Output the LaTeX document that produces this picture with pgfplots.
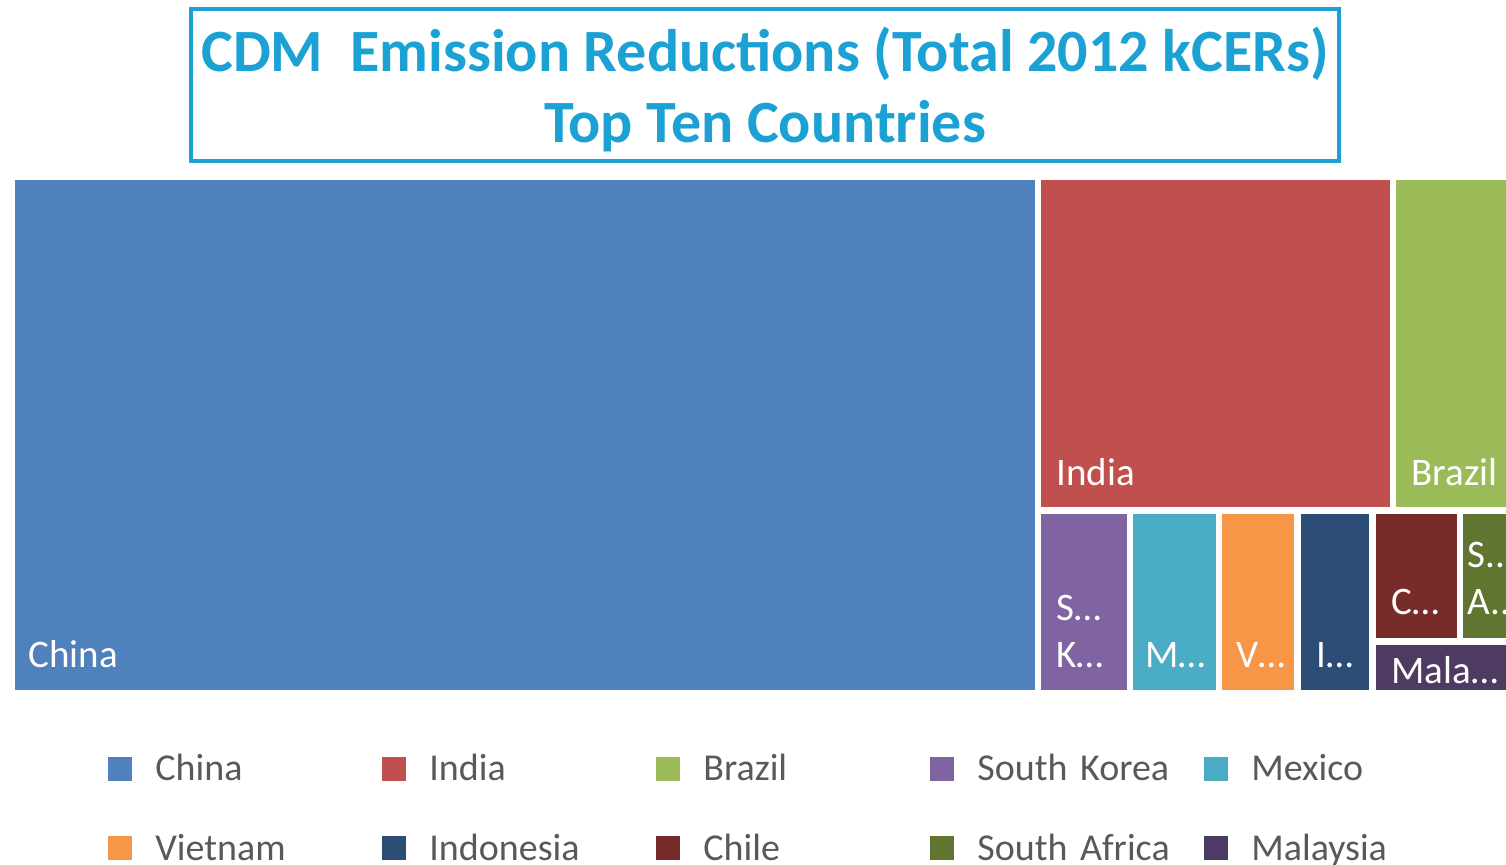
\documentclass[border=0pt]{standalone}
\usepackage{pgfplots}
\pgfplotsset{compat=1.18}
\usepackage{fontspec}
\setmainfont{Carlito}
\definecolor{cChina}{HTML}{4F81BD}
\definecolor{cIndia}{HTML}{C0504D}
\definecolor{cBrazil}{HTML}{9BBB59}
\definecolor{cKorea}{HTML}{8064A2}
\definecolor{cMexico}{HTML}{4BACC6}
\definecolor{cVietnam}{HTML}{F79646}
\definecolor{cIndonesia}{HTML}{2C4D75}
\definecolor{cChile}{HTML}{772C2A}
\definecolor{cSAfrica}{HTML}{5F7530}
\definecolor{cMalaysia}{HTML}{4D3B62}
\definecolor{titleblue}{HTML}{1BA1D3}
\definecolor{legtext}{HTML}{595959}
\begin{document}
\begin{tikzpicture}
\begin{axis}[
  width=753pt, height=432pt, scale only axis,
  xmin=0, xmax=1506, ymin=0, ymax=864, y dir=reverse,
  hide axis, clip=true,
  legend columns=5,
  legend style={at={(axis cs:102,750)}, anchor=north west, draw=none, fill=none,
    font=\fontsize{19}{22}\selectfont\color{legtext},
    /tikz/every even column/.append style={column sep=0pt},
    row sep=25pt,
    nodes={text width=113.5pt, align=left, anchor=west, inner sep=0pt},
  },
  legend image code/.code={\fill[#1] (0pt,-6pt) rectangle (12pt,6pt);},
  legend cell align=left,
  legend style={/tikz/every odd column/.append style={column sep=11.5pt}},
]
\addplot[fill=cChina, draw=none] coordinates {(15,180) (1035,180) (1035,690) (15,690)} -- cycle;
\addlegendentry{China}
\addplot[fill=cIndia, draw=none] coordinates {(1041,180) (1390,180) (1390,507) (1041,507)} -- cycle;
\addlegendentry{India}
\addplot[fill=cBrazil, draw=none] coordinates {(1396,180) (1560,180) (1560,507) (1396,507)} -- cycle;
\addlegendentry{Brazil}
\addplot[fill=cKorea, draw=none] coordinates {(1041,514) (1127,514) (1127,690) (1041,690)} -- cycle;
\addlegendentry{South Korea}
\addplot[fill=cMexico, draw=none] coordinates {(1133,514) (1216,514) (1216,690) (1133,690)} -- cycle;
\addlegendentry{Mexico}
\addplot[fill=cVietnam, draw=none] coordinates {(1222,514) (1294,514) (1294,690) (1222,690)} -- cycle;
\addlegendentry{Vietnam}
\addplot[fill=cIndonesia, draw=none] coordinates {(1301,514) (1369,514) (1369,690) (1301,690)} -- cycle;
\addlegendentry{Indonesia}
\addplot[fill=cChile, draw=none] coordinates {(1376,514) (1457,514) (1457,638) (1376,638)} -- cycle;
\addlegendentry{Chile}
\addplot[fill=cSAfrica, draw=none] coordinates {(1463,514) (1560,514) (1560,638) (1463,638)} -- cycle;
\addlegendentry{South Africa}
\addplot[fill=cMalaysia, draw=none] coordinates {(1376,645) (1560,645) (1560,690) (1376,690)} -- cycle;
\addlegendentry{Malaysia}
% labels
\begin{scope}[every node/.style={anchor=base west, inner sep=0pt, text=white, font=\fontsize{19.5}{22}\selectfont}]
\node at (axis cs:28,667) {China};
\node at (axis cs:1056,485) {India};
\node at (axis cs:1411,485) {Brazil};
\node at (axis cs:1056,620) {S…};
\node at (axis cs:1056,667) {K…};
\node at (axis cs:1145,667) {M…};
\node at (axis cs:1236,667) {V…};
\node at (axis cs:1316,667) {I…};
\node at (axis cs:1391,614) {C…};
\node at (axis cs:1467,567) {S..};
\node at (axis cs:1467,614) {A..};
\node at (axis cs:1391,683) {Mala…};
\end{scope}
% title
\draw[titleblue, line width=2.2pt] (axis cs:191,9) rectangle (axis cs:1339,161);
\node[anchor=base, inner sep=0pt, text=titleblue, font=\fontsize{30}{34}\selectfont\bfseries] at (axis cs:765,71) {CDM\ \ Emission Reductions (Total 2012 kCERs)};
\node[anchor=base, inner sep=0pt, text=titleblue, font=\fontsize{30}{34}\selectfont\bfseries] at (axis cs:765,142) {Top Ten Countries};
\end{axis}
\pgfresetboundingbox
\useasboundingbox (current axis.south west) rectangle (current axis.north east);
\end{tikzpicture}
\end{document}
